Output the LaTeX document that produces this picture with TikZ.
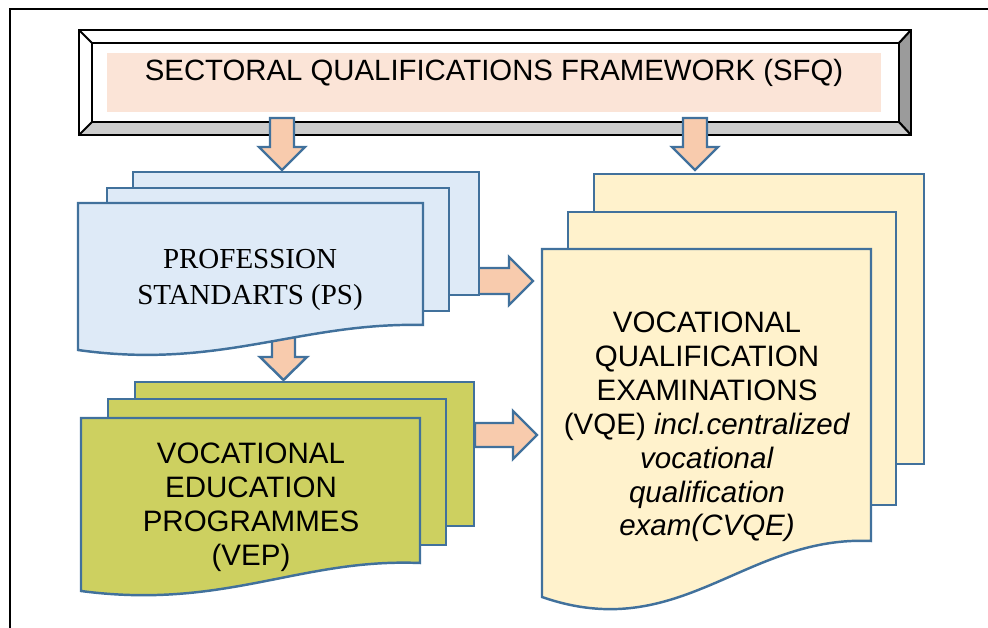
\documentclass[tikz,border=0pt]{standalone}
\usepackage{fontspec}
\setmainfont{Liberation Sans}
\newfontfamily\timesfont{Liberation Serif}

\definecolor{sheetline}{RGB}{65,113,156}
\definecolor{arrowfill}{RGB}{248,203,173}
\definecolor{psfill}{RGB}{222,234,247}
\definecolor{vepfill}{RGB}{205,208,96}
\definecolor{vqefill}{RGB}{255,242,204}
\definecolor{titlefill}{RGB}{251,228,215}
\definecolor{bevdark}{RGB}{155,155,155}
\definecolor{bevlight}{RGB}{204,204,204}

\tikzset{
  sheet/.style={draw=sheetline, line width=1.4pt, line join=miter},
  blockarrow/.style={draw=sheetline, fill=arrowfill, line width=1.4pt, line join=miter},
  bevel/.style={draw=black, line width=1.2pt},
  boxtext/.style={align=center, inner sep=0pt, font=\fontsize{16.8}{19.3}\selectfont}
}

\begin{document}
\begin{tikzpicture}[x=0.02cm, y=-0.02cm]
	    \useasboundingbox (0,0) rectangle (988,628);

	    % Outer frame, only left and top edges are visible
	    \draw [line width=1.3pt] (10,628) -- (10,9) -- (988,9);

	    % Bevelled frame of the framework
	    \coordinate (outer nw) at (79,30);
	    \coordinate (outer ne) at (911,30);
	    \coordinate (outer se) at (911,135);
	    \coordinate (outer sw) at (79,135);
	    \coordinate (inner nw) at (92,43);
	    \coordinate (inner ne) at (899,43);
	    \coordinate (inner se) at (899,122);
	    \coordinate (inner sw) at (92,122);

	    \fill [white]    (outer nw) -- (outer ne) -- (inner ne) -- (inner nw) -- cycle;
	    \fill [white]    (outer nw) -- (inner nw) -- (inner sw) -- (outer sw) -- cycle;
	    \fill [bevdark]  (outer ne) -- (outer se) -- (inner se) -- (inner ne) -- cycle;
	    \fill [bevlight] (outer sw) -- (outer se) -- (inner se) -- (inner sw) -- cycle;
	    \draw [bevel] (outer nw) rectangle (outer se);
	    \draw [bevel,fill=white] (inner nw) rectangle (inner se);
	    \draw [bevel] (outer nw) -- (inner nw) (outer ne) -- (inner ne)
		(outer se) -- (inner se) (outer sw) -- (inner sw);

	    \fill [titlefill] (107,53) rectangle (881,112);
	    \node [boxtext, font=\fontsize{16.7}{19}\selectfont] (sfq) at (494,73)
		{SECTORAL QUALIFICATIONS FRAMEWORK (SFQ)};

	    % Down arrows from the framework
	    \foreach \cx in {282,695} {
		\draw [blockarrow] (\cx-12,118) -- (\cx+12,118) -- (\cx+12,147)
		    -- (\cx+23,147) -- (\cx,170) -- (\cx-23,147) -- (\cx-12,147) -- cycle;
	    }

	    % Arrows into the examinations (behind the sheets)
	    \draw [blockarrow] (476,268) -- (509,268) -- (509,257) -- (533,281)
		-- (509,305) -- (509,294) -- (476,294) -- cycle;
	    \draw [blockarrow] (475,423) -- (513,423) -- (513,411) -- (537,435)
		-- (513,459) -- (513,447) -- (475,447) -- cycle;

	    % Down arrow from the standards to the programmes
	    \draw [blockarrow] (272,335) -- (295,335) -- (295,357) -- (307,357)
		-- (283.5,380) -- (260,357) -- (272,357) -- cycle;

	    % Profession standards
	    \draw [sheet, fill=psfill] (133,172) rectangle (479,295);
	    \draw [sheet, fill=psfill] (107,188) rectangle (449,311);
	    \draw [sheet, fill=psfill] (78,203) -- (423,203) -- (423,325)
		.. controls (300,322) and (220,370) .. (78,350) -- cycle;
	    \node [boxtext, font=\timesfont\fontsize{16.5}{20.4}\selectfont] (ps) at (250,280)
		{PROFESSION\\STANDARTS (PS)};

	    % Vocational education programmes
	    \draw [sheet, fill=vepfill] (135,382) rectangle (474,526);
	    \draw [sheet, fill=vepfill] (108,399) rectangle (446,545);
	    \draw [sheet, fill=vepfill] (81,418) -- (420,418) -- (420,563)
		.. controls (300,558) and (225,610) .. (81,591) -- cycle;
	    \node [boxtext] (vep) at (251,507)
		{VOCATIONAL\\EDUCATION\\PROGRAMMES\\(VEP)};

	    % Vocational qualification examinations
	    \draw [sheet, fill=vqefill] (594,174) rectangle (924,464);
	    \draw [sheet, fill=vqefill] (568,212) rectangle (896,505);
	    \draw [sheet, fill=vqefill] (542,249) -- (871,249) -- (871,541)
		.. controls (745,535) and (680,645) .. (542,597) -- cycle;
	    \node [boxtext] (vqe) at (707,427)
		{VOCATIONAL\\QUALIFICATION\\EXAMINATIONS\\(VQE) \textit{incl.centralized}\\
		 \textit{vocational}\\\textit{qualification}\\\textit{exam(CVQE)}};
\end{tikzpicture}
\end{document}
